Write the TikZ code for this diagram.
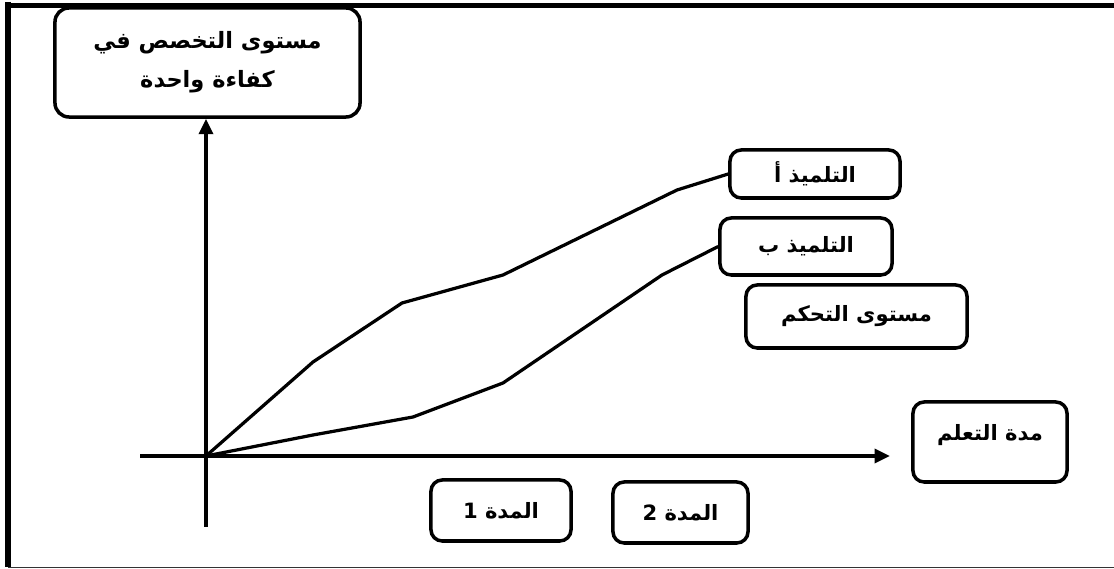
\documentclass[tikz,border=0pt]{standalone}
\usepackage{fontspec}
\newfontfamily\arabicfont[Script=Arabic]{DejaVu Sans}
\TeXXeTstate=1
\usetikzlibrary{arrows.meta}

\begin{document}
\begin{tikzpicture}[x=0.025cm,y=-0.025cm,
        box/.style={draw,line width=2.5pt,rounded corners=8pt,align=center,
            font=\arabicfont\bfseries\fontsize{15}{28}\selectfont,inner sep=0pt},
        curve/.style={line width=2.3pt,line join=round},
        axis/.style={line width=2.5pt,-{Triangle[length=11pt,width=10pt]}}]
    \useasboundingbox (0,0) rectangle (1114,569);
    % frame
    \draw[line width=3.6pt] (8,5.5) -- (1114,5.5);
    \draw[line width=3.6pt] (8,2) -- (8,567);
    \draw[line width=0.8pt,black!80] (8,567.5) -- (1114,567.5);
    % boxes
    \node[box,minimum width=7.625cm,minimum height=2.725cm,rounded corners=10pt,
        font=\arabicfont\bfseries\fontsize{16}{28}\selectfont] (level) at (207.5,62.5)
        {\beginR مستوى التخصص في\endR\\ \beginR كفاءة واحدة\endR};
    \node[box,minimum width=4.25cm,minimum height=1.2cm] (pupilA) at (815,174) {\beginR التلميذ أ\endR};
    \node[box,minimum width=4.3cm,minimum height=1.425cm] (pupilB) at (806,246.5) {\beginR التلميذ ب\endR};
    \node[box,minimum width=5.525cm,minimum height=1.575cm] (mastery) at (856.5,316.5) {\beginR مستوى التحكم\endR};
    \node[box,minimum width=3.85cm,minimum height=2cm,text depth=14pt] (duration) at (990,442) {\beginR مدة التعلم\endR};
    \node[box,minimum width=3.5cm,minimum height=1.525cm] (period1) at (501,510.5) {\beginR المدة 1\endR};
    \node[box,minimum width=3.375cm,minimum height=1.525cm] (period2) at (680.5,512.5) {\beginR المدة 2\endR};
    % axes
    \coordinate (O) at (206,456);
    \coordinate (xstart) at (140,456);
    \coordinate (xend) at (890,456);
    \coordinate (ystart) at (206,527);
    \draw[axis] (xstart) -- (xend);
    \draw[axis] (ystart) -- (O |- level.south);
    % pupils
    \draw[curve] (O) -- (313,362) -- (402,303) -- (503,275) -- (677,190) -- (pupilA.west);
    \draw[curve] (O) -- (313,435) -- (413,417) -- (503,383) -- (662,275) -- (pupilB.west);
\end{tikzpicture}
\end{document}
